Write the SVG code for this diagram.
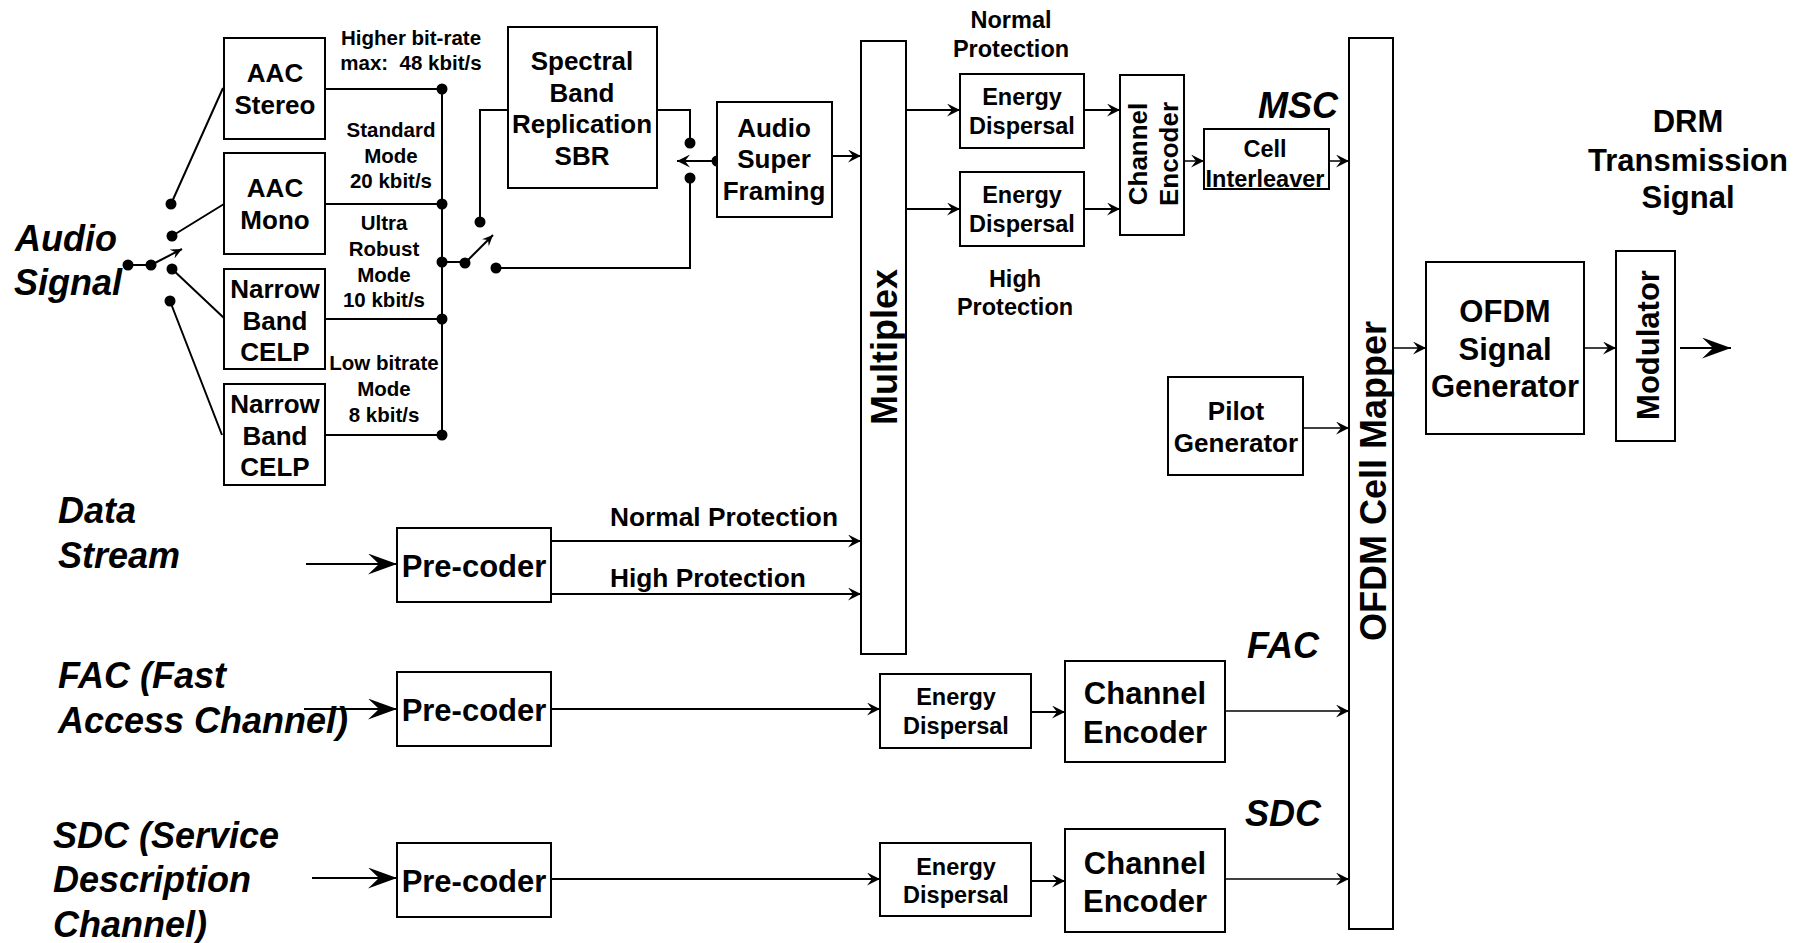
<svg xmlns="http://www.w3.org/2000/svg" width="1812" height="943" viewBox="0 0 1812 943">
<style>
.b{fill:#fff;stroke:#000;stroke-width:2}
.l{fill:none;stroke:#000;stroke-width:2}
.th{fill:none;stroke:#000;stroke-width:1.5}
.t{font-family:"Liberation Sans",Arial,sans-serif;font-weight:bold;fill:#000;text-anchor:middle}
.i{font-family:"Liberation Sans",Arial,sans-serif;font-weight:bold;font-style:italic;fill:#000;font-size:36px}
.s{font-size:20.5px}
.m{font-size:23.5px}
.n{font-size:26px}
.g{font-size:31px}
.p{font-size:26.3px;text-anchor:start}
.d{fill:#000}
</style>
<defs>
<marker id="a" markerUnits="userSpaceOnUse" markerWidth="14" markerHeight="14" refX="13" refY="6.5" orient="auto" viewBox="0 0 14 14"><path d="M0,0 L13,6.5 L0,13 L5,6.5 Z"/></marker>
<marker id="sa" markerUnits="userSpaceOnUse" markerWidth="12" markerHeight="12" refX="11" refY="5" orient="auto" viewBox="0 0 12 12"><path d="M0,0 L11,5 L0,10 L4,5 Z"/></marker>
<marker id="A" markerUnits="userSpaceOnUse" markerWidth="30" markerHeight="22" refX="29" refY="10.5" orient="auto" viewBox="0 0 30 22"><path d="M0,0 L29,10.5 L0,21 L11,10.5 Z"/></marker>
</defs>
<rect width="1812" height="943" fill="#fff"/>

<g id="connectors">
<path class="l" d="M128,265H151"/>
<path class="l" d="M151,265L182,249" marker-end="url(#sa)"/>
<path class="l" d="M171,204L223,88M172,236L224,204M172,269L224,318M170,301L222,435"/>
<path class="l" d="M325,89H442M325,204H442M325,319H442M325,435H442M442,89V435"/>
<path class="l" d="M442,262H465"/>
<path class="l" d="M465,263L493,235" marker-end="url(#sa)"/>
<path class="l" d="M480,222V110H508"/>
<path class="l" d="M657,110H690V143"/>
<path class="l" d="M496,268H690V178"/>
<path class="l" d="M717,161H677" marker-end="url(#a)"/>
<path class="l" d="M832,156H861" marker-end="url(#a)"/>
<path class="l" d="M906,110H960" marker-end="url(#a)"/>
<path class="l" d="M906,209H960" marker-end="url(#a)"/>
<path class="l" d="M1084,110H1120" marker-end="url(#a)"/>
<path class="l" d="M1084,209H1120" marker-end="url(#a)"/>
<path class="th" d="M1184,161H1204" marker-end="url(#a)"/>
<path class="th" d="M1329,161H1349" marker-end="url(#a)"/>
<path class="th" d="M1303,428H1349" marker-end="url(#a)"/>
<path class="th" d="M1393,348H1426" marker-end="url(#a)"/>
<path class="th" d="M1584,348H1616" marker-end="url(#a)"/>
<path class="l" d="M1680,348H1731" marker-end="url(#A)"/>
<path class="l" d="M306,564H397" marker-end="url(#A)"/>
<path class="l" d="M304,709H397" marker-end="url(#A)"/>
<path class="l" d="M312,878H397" marker-end="url(#A)"/>
<path class="l" d="M551,541H861" marker-end="url(#a)"/>
<path class="l" d="M551,594H861" marker-end="url(#a)"/>
<path class="l" d="M551,709H880" marker-end="url(#a)"/>
<path class="l" d="M1031,712H1065" marker-end="url(#a)"/>
<path class="th" d="M1225,711H1349" marker-end="url(#a)"/>
<path class="l" d="M551,879H880" marker-end="url(#a)"/>
<path class="l" d="M1031,881H1065" marker-end="url(#a)"/>
<path class="th" d="M1225,879H1349" marker-end="url(#a)"/>
<g class="d">
<circle cx="128" cy="265" r="5.5"/><circle cx="151" cy="265" r="5.5"/>
<circle cx="171" cy="204" r="5.5"/><circle cx="172" cy="236" r="5.5"/>
<circle cx="172" cy="269" r="5.5"/><circle cx="170" cy="301" r="5.5"/>
<circle cx="442" cy="89" r="5.5"/><circle cx="442" cy="204" r="5.5"/>
<circle cx="442" cy="262" r="5.5"/><circle cx="442" cy="319" r="5.5"/>
<circle cx="442" cy="435" r="5.5"/><circle cx="465" cy="263" r="5.5"/>
<circle cx="480" cy="222" r="5.5"/><circle cx="496" cy="268" r="5.5"/>
<circle cx="690" cy="143" r="5.5"/><circle cx="690" cy="178" r="5.5"/>
<circle cx="717" cy="161" r="5.5"/>
</g>
</g>

<g id="labels">
<text class="i" x="15" y="251">Audio</text>
<text class="i" x="14" y="295">Signal</text>
<text class="i" x="58" y="523">Data</text>
<text class="i" x="58" y="568">Stream</text>
<text class="i" x="58" y="688">FAC (Fast</text>
<text class="i" x="58" y="733">Access Channel)</text>
<text class="i" x="53" y="848">SDC (Service</text>
<text class="i" x="53" y="892">Description</text>
<text class="i" x="53" y="937">Channel)</text>
<text class="i" x="1258" y="118">MSC</text>
<text class="i" x="1247" y="658">FAC</text>
<text class="i" x="1245" y="826">SDC</text>
<text class="t s" x="411" y="45">Higher bit-rate</text>
<text class="t s" x="411" y="70">max:&#160; 48 kbit/s</text>
<text class="t s" x="391" y="137">Standard</text>
<text class="t s" x="391" y="163">Mode</text>
<text class="t s" x="391" y="188">20 kbit/s</text>
<text class="t s" x="384" y="230">Ultra</text>
<text class="t s" x="384" y="256">Robust</text>
<text class="t s" x="384" y="282">Mode</text>
<text class="t s" x="384" y="307">10 kbit/s</text>
<text class="t s" x="384" y="370">Low bitrate</text>
<text class="t s" x="384" y="396">Mode</text>
<text class="t s" x="384" y="422">8 kbit/s</text>
<text class="t m" x="1011" y="28">Normal</text>
<text class="t m" x="1011" y="57">Protection</text>
<text class="t m" x="1015" y="287">High</text>
<text class="t m" x="1015" y="315">Protection</text>
<text class="t p" x="610" y="526">Normal Protection</text>
<text class="t p" x="610" y="587">High Protection</text>
<text class="t g" x="1688" y="132">DRM</text>
<text class="t g" x="1688" y="171">Transmission</text>
<text class="t g" x="1688" y="208">Signal</text>
</g>

<g id="aac-stereo"><rect class="b" x="224" y="38" width="101" height="101"/>
<text class="t n" x="275" y="82">AAC</text><text class="t n" x="275" y="114">Stereo</text></g>
<g id="aac-mono"><rect class="b" x="224" y="153" width="101" height="101"/>
<text class="t n" x="275" y="197">AAC</text><text class="t n" x="275" y="229">Mono</text></g>
<g id="celp1"><rect class="b" x="224" y="269" width="101" height="100"/>
<text class="t n" x="275" y="298">Narrow</text><text class="t n" x="275" y="330">Band</text><text class="t n" x="275" y="361">CELP</text></g>
<g id="celp2"><rect class="b" x="224" y="384" width="101" height="101"/>
<text class="t n" x="275" y="413">Narrow</text><text class="t n" x="275" y="445">Band</text><text class="t n" x="275" y="476">CELP</text></g>
<g id="sbr"><rect class="b" x="508" y="27" width="149" height="161"/>
<text class="t n" x="582" y="70">Spectral</text><text class="t n" x="582" y="102">Band</text><text class="t n" x="582" y="133">Replication</text><text class="t n" x="582" y="165">SBR</text></g>
<g id="asf"><rect class="b" x="717" y="102" width="115" height="115"/>
<text class="t n" x="774" y="137">Audio</text><text class="t n" x="774" y="168">Super</text><text class="t n" x="774" y="200">Framing</text></g>
<g id="multiplex"><rect class="b" x="861" y="41" width="45" height="613"/>
<text class="t" style="font-size:36px" transform="translate(897,347) rotate(-90)">Multiplex</text></g>
<g id="ed1"><rect class="b" x="960" y="74" width="124" height="74"/>
<text class="t m" x="1022" y="105">Energy</text><text class="t m" x="1022" y="134">Dispersal</text></g>
<g id="ed2"><rect class="b" x="960" y="172" width="124" height="74"/>
<text class="t m" x="1022" y="203">Energy</text><text class="t m" x="1022" y="232">Dispersal</text></g>
<g id="ce-msc"><rect class="b" x="1120" y="75" width="64" height="160"/>
<text class="t n" transform="translate(1147,154) rotate(-90)">Channel</text>
<text class="t n" transform="translate(1178,154) rotate(-90)">Encoder</text></g>
<g id="cell-interleaver"><rect class="b" x="1204" y="129" width="125" height="60"/>
<text class="t m" x="1265" y="157">Cell</text><text class="t m" x="1265" y="187">Interleaver</text></g>
<g id="mapper"><rect class="b" x="1349" y="38" width="44" height="891"/>
<text class="t" style="font-size:36px" transform="translate(1386,481) rotate(-90)">OFDM Cell Mapper</text></g>
<g id="pilot"><rect class="b" x="1168" y="377" width="135" height="98"/>
<text class="t n" x="1236" y="420">Pilot</text><text class="t n" x="1236" y="452">Generator</text></g>
<g id="ofdm-gen"><rect class="b" x="1426" y="262" width="158" height="172"/>
<text class="t g" x="1505" y="322">OFDM</text><text class="t g" x="1505" y="360">Signal</text><text class="t g" x="1505" y="397">Generator</text></g>
<g id="modulator"><rect class="b" x="1616" y="251" width="59" height="190"/>
<text class="t g" transform="translate(1659,345) rotate(-90)">Modulator</text></g>
<g id="precoder-data"><rect class="b" x="397" y="528" width="154" height="74"/>
<text class="t g" x="474" y="577">Pre-coder</text></g>
<g id="precoder-fac"><rect class="b" x="397" y="672" width="154" height="74"/>
<text class="t g" x="474" y="721">Pre-coder</text></g>
<g id="precoder-sdc"><rect class="b" x="397" y="843" width="154" height="74"/>
<text class="t g" x="474" y="892">Pre-coder</text></g>
<g id="ed-fac"><rect class="b" x="880" y="674" width="151" height="74"/>
<text class="t m" x="956" y="705">Energy</text><text class="t m" x="956" y="734">Dispersal</text></g>
<g id="ce-fac"><rect class="b" x="1065" y="661" width="160" height="101"/>
<text class="t g" x="1145" y="704">Channel</text><text class="t g" x="1145" y="743">Encoder</text></g>
<g id="ed-sdc"><rect class="b" x="880" y="843" width="151" height="73"/>
<text class="t m" x="956" y="875">Energy</text><text class="t m" x="956" y="903">Dispersal</text></g>
<g id="ce-sdc"><rect class="b" x="1065" y="829" width="160" height="103"/>
<text class="t g" x="1145" y="874">Channel</text><text class="t g" x="1145" y="912">Encoder</text></g>
</svg>
